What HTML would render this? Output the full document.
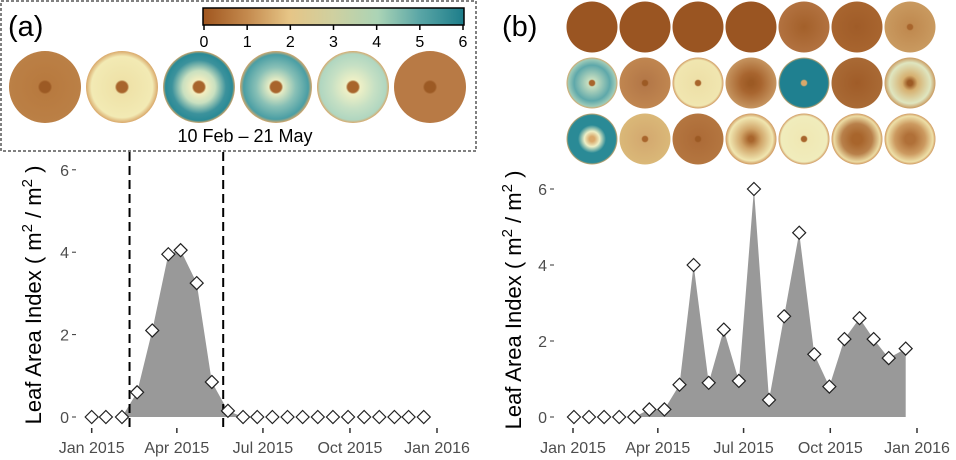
<!DOCTYPE html>
<html><head><meta charset="utf-8">
<style>
html,body{margin:0;padding:0;background:#fff;width:956px;height:460px;overflow:hidden}
svg{display:block;font-family:"Liberation Sans",sans-serif}
.tick{font-size:16px;fill:#4d4d4d}
</style></head>
<body>
<svg id="chart" width="956" height="460" viewBox="0 0 956 460">
<defs>
<linearGradient id="cbar" x1="0" x2="1" y1="0" y2="0">
<stop offset="0" stop-color="#a0561f"/><stop offset="0.17" stop-color="#c48a4e"/>
<stop offset="0.33" stop-color="#e6c586"/><stop offset="0.5" stop-color="#cfd0a0"/>
<stop offset="0.67" stop-color="#abd4b6"/><stop offset="0.83" stop-color="#5aa6a6"/>
<stop offset="1" stop-color="#1d7d8a"/></linearGradient>
<radialGradient id="gA1"><stop offset="0.15" stop-color="#9c5a24"/><stop offset="0.2" stop-color="#b87a3f"/><stop offset="1" stop-color="#bb8046"/></radialGradient>
<radialGradient id="gA2"><stop offset="0.15" stop-color="#a8652c"/><stop offset="0.2" stop-color="#efe2a8"/><stop offset="0.85" stop-color="#f2eab4"/><stop offset="1" stop-color="#d9a86a"/></radialGradient>
<radialGradient id="gA3"><stop offset="0.15" stop-color="#a8652c"/><stop offset="0.2" stop-color="#f3eec0"/><stop offset="0.45" stop-color="#c9e0c0"/><stop offset="0.75" stop-color="#3c929c"/><stop offset="0.93" stop-color="#2a8a96"/><stop offset="1" stop-color="#d9a86a"/></radialGradient>
<radialGradient id="gA4"><stop offset="0.15" stop-color="#a8652c"/><stop offset="0.2" stop-color="#e6ecc4"/><stop offset="0.55" stop-color="#88c0b6"/><stop offset="0.9" stop-color="#4a9ea4"/><stop offset="1" stop-color="#d9a86a"/></radialGradient>
<radialGradient id="gA5"><stop offset="0.15" stop-color="#a8652c"/><stop offset="0.2" stop-color="#eef0c6"/><stop offset="0.6" stop-color="#c6e0c4"/><stop offset="0.92" stop-color="#b0d6c0"/><stop offset="1" stop-color="#d9a86a"/></radialGradient>
<radialGradient id="gA6"><stop offset="0.15" stop-color="#9c5a24"/><stop offset="0.2" stop-color="#b87a45"/><stop offset="1" stop-color="#b87a45"/></radialGradient>
<radialGradient id="gBr"><stop offset="0" stop-color="#9a5522"/><stop offset="1" stop-color="#9a5522"/></radialGradient>
<radialGradient id="gB5"><stop offset="0" stop-color="#a3602a"/><stop offset="1" stop-color="#b27240"/></radialGradient>
<radialGradient id="gB6"><stop offset="0" stop-color="#a05c28"/><stop offset="1" stop-color="#a8652f"/></radialGradient>
<radialGradient id="gB7"><stop offset="0.1" stop-color="#a8652c"/><stop offset="0.15" stop-color="#c08a50"/><stop offset="1" stop-color="#c99a60"/></radialGradient>
<radialGradient id="gC1"><stop offset="0.1" stop-color="#a8652c"/><stop offset="0.15" stop-color="#c8dfc0"/><stop offset="0.7" stop-color="#5ea8aa"/><stop offset="0.92" stop-color="#9ccab8"/><stop offset="1" stop-color="#d9a86a"/></radialGradient>
<radialGradient id="gC2"><stop offset="0.1" stop-color="#9c5a24"/><stop offset="0.15" stop-color="#b47848"/><stop offset="1" stop-color="#c08650"/></radialGradient>
<radialGradient id="gC3"><stop offset="0.1" stop-color="#a8652c"/><stop offset="0.15" stop-color="#eee0a8"/><stop offset="0.9" stop-color="#f0e6b0"/><stop offset="1" stop-color="#cf9860"/></radialGradient>
<radialGradient id="gC4"><stop offset="0.1" stop-color="#9c5a24"/><stop offset="0.4" stop-color="#a8652f"/><stop offset="1" stop-color="#c69560"/></radialGradient>
<radialGradient id="gC5"><stop offset="0.1" stop-color="#d9a86a"/><stop offset="0.15" stop-color="#1f8090"/><stop offset="0.93" stop-color="#1f8090"/><stop offset="1" stop-color="#d9a86a"/></radialGradient>
<radialGradient id="gC6"><stop offset="0" stop-color="#a05c28"/><stop offset="1" stop-color="#a96a35"/></radialGradient>
<radialGradient id="gC7"><stop offset="0.1" stop-color="#9c5a24"/><stop offset="0.3" stop-color="#d6b070"/><stop offset="0.8" stop-color="#dfe6c0"/><stop offset="1" stop-color="#c99a60"/></radialGradient>
<radialGradient id="gD1"><stop offset="0.1" stop-color="#d9a86a"/><stop offset="0.3" stop-color="#eef0c6"/><stop offset="0.55" stop-color="#2a8a96"/><stop offset="0.93" stop-color="#2a8a96"/><stop offset="1" stop-color="#d9a86a"/></radialGradient>
<radialGradient id="gD2"><stop offset="0.1" stop-color="#a8652c"/><stop offset="0.15" stop-color="#d4aa70"/><stop offset="1" stop-color="#dab878"/></radialGradient>
<radialGradient id="gD3"><stop offset="0.1" stop-color="#9c5a24"/><stop offset="0.15" stop-color="#ad6c38"/><stop offset="1" stop-color="#b47640"/></radialGradient>
<radialGradient id="gD4"><stop offset="0.1" stop-color="#a8652c"/><stop offset="0.4" stop-color="#d0a468"/><stop offset="0.85" stop-color="#f0e6b0"/><stop offset="1" stop-color="#cf9860"/></radialGradient>
<radialGradient id="gD5"><stop offset="0.1" stop-color="#a8652c"/><stop offset="0.15" stop-color="#f0e8b4"/><stop offset="0.9" stop-color="#f0ecbc"/><stop offset="1" stop-color="#cf9860"/></radialGradient>
<radialGradient id="gD6"><stop offset="0.2" stop-color="#a8652c"/><stop offset="0.6" stop-color="#b8804a"/><stop offset="0.9" stop-color="#ecdca4"/><stop offset="1" stop-color="#cf9860"/></radialGradient>
<radialGradient id="gD7"><stop offset="0.2" stop-color="#b07038"/><stop offset="0.6" stop-color="#cc9a60"/><stop offset="0.9" stop-color="#eee0a8"/><stop offset="1" stop-color="#cf9860"/></radialGradient>
</defs>

<g>
<rect x="1" y="1" width="475" height="150" fill="none" stroke="#000" stroke-width="1" stroke-dasharray="3,2"/>
<text x="8" y="36" font-size="29" fill="#000">(a)</text>
<g>
<rect x="203" y="8" width="261" height="17" fill="url(#cbar)" stroke="#000" stroke-width="1.5"/>
<g id="cbticks"></g>
</g>
<g>
<circle cx="45" cy="87" r="36" fill="url(#gA1)"/>
<circle cx="122" cy="87" r="36" fill="url(#gA2)"/>
<circle cx="199" cy="87" r="36" fill="url(#gA3)"/>
<circle cx="276" cy="87" r="36" fill="url(#gA4)"/>
<circle cx="353" cy="87" r="36" fill="url(#gA5)"/>
<circle cx="430" cy="87" r="36" fill="url(#gA6)"/>
</g>
<text x="245" y="142" font-size="18" text-anchor="middle" fill="#000">10 Feb – 21 May</text>
</g>

<text x="502" y="36" font-size="29" fill="#000">(b)</text>
<g id="bthumbs"></g>

<g>
<text transform="translate(41,295) rotate(-90)" font-size="22" text-anchor="middle" fill="#000">Leaf Area Index ( m<tspan font-size="15" dy="-9">2</tspan><tspan dy="9"> / m</tspan><tspan font-size="15" dy="-9">2</tspan><tspan dy="9"> )</tspan></text>
<g id="pa"></g>
</g>
<g>
<text transform="translate(521,300) rotate(-90)" font-size="22" text-anchor="middle" fill="#000">Leaf Area Index ( m<tspan font-size="15" dy="-9">2</tspan><tspan dy="9"> / m</tspan><tspan font-size="15" dy="-9">2</tspan><tspan dy="9"> )</tspan></text>
<g id="pb"></g>
</g>
</svg>
<script>
const NS="http://www.w3.org/2000/svg";
const xTickLabels=["Jan 2015","Apr 2015","Jul 2015","Oct 2015","Jan 2016"];
const xTickDays=[0,90,181,273,365];
const yTicks=[0,2,4,6];
const cbTicks=[0,1,2,3,4,5,6];
const daysA=[0,15,32,48,64,81,94,111,127,144,160,175,191,207,223,239,255,271,288,304,320,335,351];
const laiA=[0,0,0,0.6,2.1,3.95,4.05,3.25,0.85,0.15,0,0,0,0,0,0,0,0,0,0,0,0,0];
const windowDays=[40,139];
const daysB=[1,17,33,49,65,81,97,113,128,144,160,176,192,208,224,240,256,272,288,304,319,335,353];
const laiB=[0,0,0,0,0,0.2,0.2,0.85,4,0.9,2.3,0.95,6,0.45,2.65,4.85,1.65,0.8,2.05,2.6,2.05,1.55,1.8];
const thumbFills=[["gBr","gBr","gBr","gBr","gB5","gB6","gB7"],["gC1","gC2","gC3","gC4","gC5","gC6","gC7"],["gD1","gD2","gD3","gD4","gD5","gD6","gD7"]];

function mk(tag,attrs,parent,text){const e=document.createElementNS(NS,tag);for(const k in attrs)e.setAttribute(k,attrs[k]);if(text!==undefined)e.textContent=text;parent.appendChild(e);return e;}

const cb=document.getElementById('cbticks');
cbTicks.forEach(v=>{const x=204+v*(463-204)/6;
 const t=mk('line',{x1:x,x2:x,y1:25,y2:30,stroke:'#000','stroke-width':1.5},cb);
 
 
 const l=mk('text',{x:x,y:47,'font-size':16,'text-anchor':'middle',fill:'#000'},cb,String(v));
 
 
});
const bt=document.getElementById('bthumbs');
thumbFills.forEach((row,r)=>row.forEach((f,c)=>{
 const ci=mk('circle',{cx:592+c*53,cy:27+r*56,r:25.5,fill:'url(#'+f+')'},bt);
 
 
}));

function panel(g,cfg){
 const X=d=>cfg.x0+d*(cfg.x1-cfg.x0)/365;
 const Y=v=>cfg.y0-v*cfg.ppu;
 let pts=X(cfg.days[0])+','+Y(0)+' ';
 cfg.days.forEach((d,i)=>pts+=X(d)+','+Y(cfg.vals[i])+' ');
 pts+=X(cfg.days[cfg.days.length-1])+','+Y(0);
 const a=mk('polygon',{points:pts,fill:'#999999'},g);
 
 
 if(cfg.win){cfg.win.forEach(d=>{
  const l=mk('line',{x1:X(d),x2:X(d),y1:152,y2:430,stroke:'#000','stroke-width':2,'stroke-dasharray':'9,5'},g);
  
  
 });}
 cfg.days.forEach((d,i)=>{const x=X(d),y=Y(cfg.vals[i]),s=6.5;
  const p=mk('polygon',{points:`${x},${y-s} ${x+s},${y} ${x},${y+s} ${x-s},${y}`,fill:'#fff',stroke:'#222','stroke-width':1.2},g);
  
  
 });
 yTicks.forEach(v=>{const y=Y(v);
  const t=mk('line',{x1:cfg.ax-4,x2:cfg.ax,y1:y,y2:y,stroke:'#333','stroke-width':1},g);
  
  
  const l=mk('text',{x:cfg.ax-7,y:y+6,'text-anchor':'end',class:'tick'},g,String(v));
  
  
 });
 xTickDays.forEach((d,i)=>{const x=X(d);
  const t=mk('line',{x1:x,x2:x,y1:428,y2:433,stroke:'#333','stroke-width':1.5},g);
  
  
  const l=mk('text',{x:x,y:453,'text-anchor':'middle',class:'tick'},g,xTickLabels[i]);
  
  
 });
}
panel(document.getElementById('pa'),{x0:91.7,x1:437,y0:417,ppu:41.2,ax:76,days:daysA,vals:laiA,win:windowDays});
panel(document.getElementById('pb'),{x0:573,x1:917,y0:417,ppu:38,ax:554,days:daysB,vals:laiB});
</script>
</body></html>
